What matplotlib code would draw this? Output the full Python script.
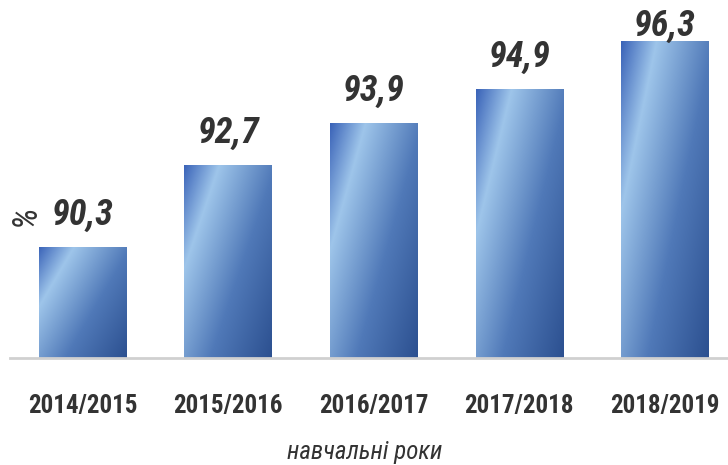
import numpy as np
import matplotlib
matplotlib.use("Agg")
import matplotlib.pyplot as plt
from matplotlib.colors import LinearSegmentedColormap

# дані
years = ["2014/2015", "2015/2016", "2016/2017", "2017/2018", "2018/2019"]
values = [90.3, 92.7, 93.9, 94.9, 96.3]
labels = ["90,3", "92,7", "93,9", "94,9", "96,3"]

font = ["Roboto Condensed", "DejaVu Sans"]
text_color = "#333333"

# градієнт стовпчиків (зверху-зліва -> знизу-справа)
grad = LinearSegmentedColormap.from_list("bar_grad", [
    (0.0, "#3a63b8"),
    (0.23, "#9ec5ea"),
    (0.6, "#5079b8"),
    (1.0, "#2c5090"),
])

fig = plt.figure(figsize=(7.28, 4.65), dpi=100)
W, H = 728, 465
ax = fig.add_axes([9.7 / W, 107 / H, 718.3 / W, 358 / H])

x = np.arange(len(years))
bars = ax.bar(x, values, width=0.6, color="none", edgecolor="none", zorder=2)

ax.set_xlim(-0.5, 4.433)
ax.set_ylim(87.06, 97.5)

# градієнтна заливка через imshow із обрізанням по прямокутнику
u = np.linspace(0, 1, 200)
v = np.linspace(0, 1, 400)
U, V = np.meshgrid(u, v)
S = (U + 0.75 * V) / 1.75
for b in bars:
    x0, y0 = b.get_x(), b.get_y()
    w, h = b.get_width(), b.get_height()
    y_bottom = ax.get_ylim()[0]
    im = ax.imshow(S, cmap=grad, vmin=0, vmax=1, aspect="auto",
                   extent=[x0, x0 + w, y_bottom, y0 + h], origin="upper",
                   interpolation="bilinear", zorder=2)
    im.set_clip_path(b)

# підписи значень
offsets = [16, 16, 16, 16, 3.6]
for xi, val, lab, off in zip(x, values, labels, offsets):
    ax.annotate(lab, (xi, val), xytext=(0, off), textcoords="offset points",
                ha="center", va="baseline", fontsize=26, fontweight="bold",
                fontstyle="italic", family=font, color=text_color,
                annotation_clip=False)

for side in ["left", "right", "top"]:
    ax.spines[side].set_visible(False)
ax.spines["bottom"].set_color("#d0d0d0")
ax.spines["bottom"].set_linewidth(2)
ax.spines["bottom"].set_zorder(3)

ax.set_yticks([])
ax.set_xticks(x)
ax.set_xticklabels(years, fontsize=18, fontweight="bold", family=font, color=text_color)
ax.tick_params(axis="x", length=0, pad=26)

fig.text(365 / W, 1 - 452 / H, "навчальні роки", ha="center", va="center",
         fontsize=18, fontstyle="italic", family=font, color=text_color)
fig.text(25 / W, 1 - 215 / H, "%", ha="center", va="center", rotation=90,
         fontsize=25, fontstyle="italic", family=font, color=text_color)

fig.savefig("out.png", dpi=100)
